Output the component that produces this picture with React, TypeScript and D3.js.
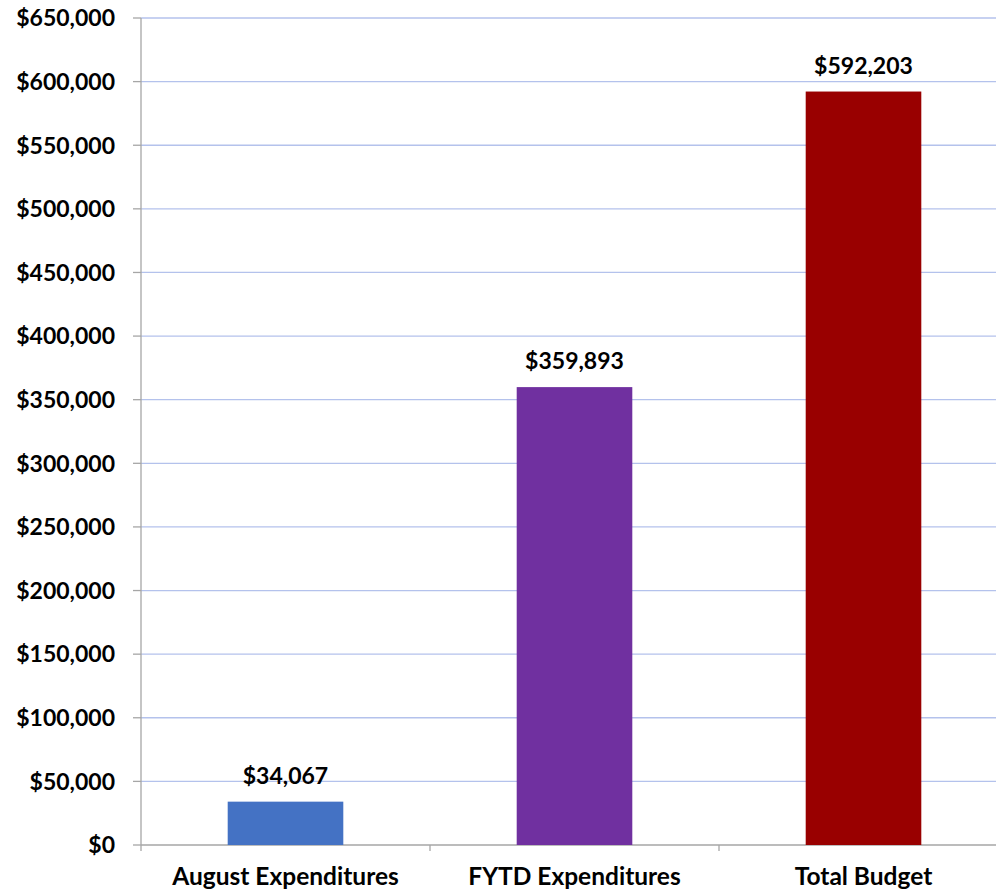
import React, { useEffect } from "react";
import * as d3 from "d3";

const categories = ["August Expenditures", "FYTD Expenditures", "Total Budget"];
const values = [34067, 359893, 592203];
const barColors = ["#4472C4", "#7030A0", "#990000"];
const yTicks = [0, 50000, 100000, 150000, 200000, 250000, 300000, 350000, 400000, 450000, 500000, 550000, 600000, 650000];

const W = 996;
const H = 893;
const M = { left: 141, right: -12, top: 18, bottom: 48 };
const FONT = "Lato, 'Open Sans', sans-serif";

export default function App() {
  useEffect(() => {
    document.body.style.margin = "0";
  }, []);

  const x = d3
    .scaleBand<string>()
    .domain(categories)
    .range([M.left, W - M.right])
    .paddingInner(0.6)
    .paddingOuter(0.3);
  const y = d3.scaleLinear().domain([0, 650000]).range([H - M.bottom, M.top]);
  const fmt = (v: number) => "$" + d3.format(",")(v);
  const step = x.step();
  const x0 = M.left;
  const y0 = y(0);

  return (
    <svg width={W} height={H} style={{ display: "block", position: "absolute", left: 0, top: 0 }}>
      <rect x={0} y={0} width={W} height={H} fill="#ffffff" />
      {yTicks.map((t) => (
        <g key={t}>
          {t > 0 && (
            <line x1={x0} x2={W} y1={y(t)} y2={y(t)} stroke="#B4C2EC" strokeWidth={1.3} />
          )}
          <line x1={x0 - 8} x2={x0} y1={y(t)} y2={y(t)} stroke="#A6A6A6" strokeWidth={1.3} />
          <text
            x={115}
            y={y(t)}
            dy="0.36em"
            textAnchor="end"
            fontFamily={FONT}
            fontWeight={700}
            fontSize={23}
            fill="#000"
          >
            {fmt(t)}
          </text>
        </g>
      ))}
      <line x1={x0} x2={x0} y1={M.top} y2={y0 + 6} stroke="#A6A6A6" strokeWidth={1.3} />
      <line x1={x0} x2={W} y1={y0} y2={y0} stroke="#A6A6A6" strokeWidth={1.3} />
      {categories.map((c, i) => (
        <line
          key={"ct" + c}
          x1={x0 + step * (i + 1)}
          x2={x0 + step * (i + 1)}
          y1={y0}
          y2={y0 + 6}
          stroke="#A6A6A6"
          strokeWidth={1.3}
        />
      ))}
      {categories.map((c, i) => (
        <g key={c}>
          <rect
            x={x(c)!}
            y={y(values[i])}
            width={x.bandwidth()}
            height={y0 - y(values[i])}
            fill={barColors[i]}
          />
          <text
            x={x(c)! + x.bandwidth() / 2}
            y={y(values[i]) - 18}
            textAnchor="middle"
            fontFamily={FONT}
            fontWeight={700}
            fontSize={23}
            fill="#000"
          >
            {fmt(values[i])}
          </text>
          <text
            x={x(c)! + x.bandwidth() / 2}
            y={y0 + 40}
            textAnchor="middle"
            fontFamily={FONT}
            fontWeight={700}
            fontSize={24.5}
            fill="#000"
          >
            {c}
          </text>
        </g>
      ))}
    </svg>
  );
}
